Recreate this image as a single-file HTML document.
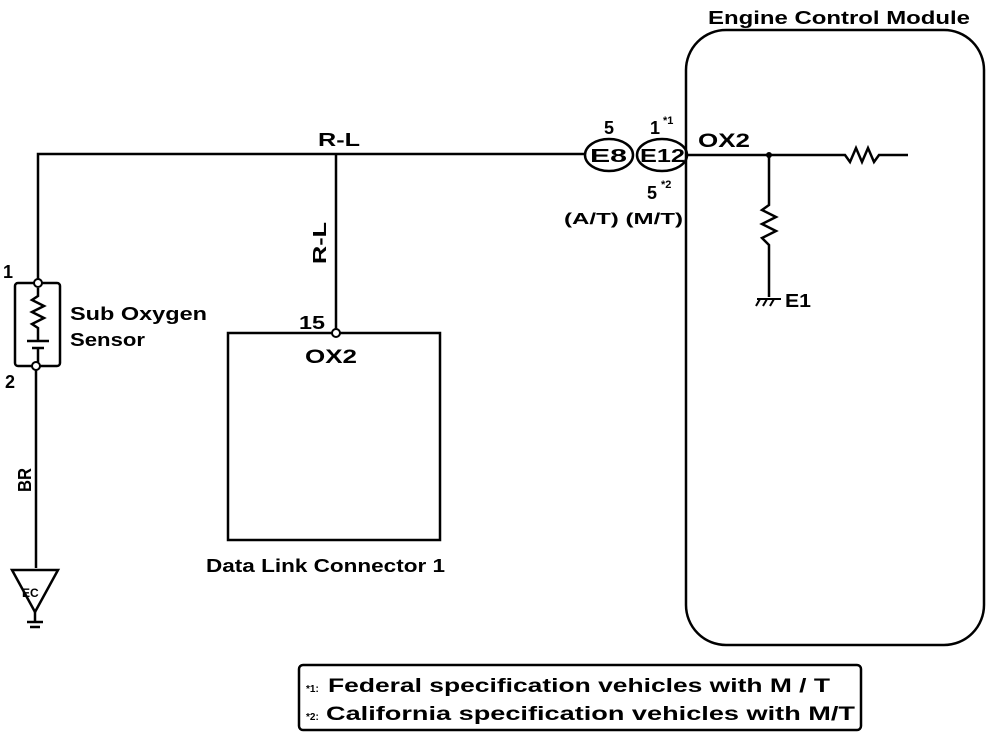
<!DOCTYPE html>
<html><head><style>
html,body{margin:0;padding:0;background:#fff;}
svg{display:block;}
text{font-family:"Liberation Sans",Arial,sans-serif;font-weight:bold;fill:#000;}
</style></head><body>
<svg width="992" height="746" viewBox="0 0 992 746" xmlns="http://www.w3.org/2000/svg">
<g fill="none" stroke="#000" stroke-width="2.5">
<rect x="686" y="30" width="298" height="615" rx="40" ry="40"/>
<polyline points="38,280 38,154 585,154"/>
<line x1="336" y1="154" x2="336" y2="330"/>
<ellipse cx="609" cy="155" rx="24" ry="16"/>
<ellipse cx="662" cy="155" rx="25" ry="16"/>
<polyline points="687,155 845,155 850,162 856,148 862,162 868,148 874,162 879,155 908,155"/>
<polyline points="769,155 769,205 762,210 776,217 762,224 776,231 762,238 769,245 769,297"/>
<rect x="15" y="283" width="45" height="83" rx="3"/>
<polyline points="38,288 38,296 32,300 44,306 32,312 44,318 32,324 38,328 38,340"/>
<line x1="27" y1="341" x2="49" y2="341"/>
<line x1="32" y1="348" x2="44" y2="348"/>
<line x1="38" y1="348" x2="38" y2="362"/>
<line x1="36" y1="370" x2="36" y2="568"/>
<polygon points="12,570 58,570 35,612"/>
<line x1="35" y1="612" x2="35" y2="622"/>
<line x1="27" y1="622" x2="43" y2="622"/>
<line x1="30" y1="627" x2="40" y2="627"/>
<rect x="228" y="333" width="212" height="207"/>
<rect x="299" y="665" width="562" height="65" rx="4"/>
</g>
<g fill="#fff" stroke="#000" stroke-width="2">
<circle cx="38" cy="283" r="4"/>
<circle cx="36" cy="366" r="4"/>
<circle cx="336" cy="333" r="4"/>
</g>
<circle cx="769" cy="155" r="3" fill="#000"/>
<g stroke="#000" stroke-width="2">
<line x1="757" y1="299" x2="781" y2="299"/>
<line x1="760" y1="299" x2="756" y2="306"/>
<line x1="767" y1="299" x2="763" y2="306"/>
<line x1="774" y1="299" x2="770" y2="306"/>
</g>
<text x="708" y="24" font-size="18" textLength="262" lengthAdjust="spacingAndGlyphs">Engine Control Module</text>
<text x="318" y="146" font-size="18" textLength="42" lengthAdjust="spacingAndGlyphs">R-L</text>
<text x="326" y="264" font-size="18" transform="rotate(-90 326 264)" textLength="42" lengthAdjust="spacingAndGlyphs">R-L</text>
<text x="604" y="134" font-size="18">5</text>
<text x="650" y="134" font-size="18">1</text>
<text x="663" y="124" font-size="11">*1</text>
<text x="698" y="147" font-size="19" textLength="52" lengthAdjust="spacingAndGlyphs">OX2</text>
<text x="590" y="162" font-size="18" textLength="37" lengthAdjust="spacingAndGlyphs">E8</text>
<text x="640" y="162" font-size="18" textLength="45" lengthAdjust="spacingAndGlyphs">E12</text>
<text x="647" y="199" font-size="18">5</text>
<text x="661" y="188" font-size="11">*2</text>
<text x="564" y="224" font-size="16" textLength="119" lengthAdjust="spacingAndGlyphs">(A/T) (M/T)</text>
<text x="785" y="307" font-size="18" textLength="26" lengthAdjust="spacingAndGlyphs">E1</text>
<text x="3" y="278" font-size="18">1</text>
<text x="5" y="388" font-size="18">2</text>
<text x="70" y="320" font-size="18" textLength="137" lengthAdjust="spacingAndGlyphs">Sub Oxygen</text>
<text x="70" y="346" font-size="18" textLength="75" lengthAdjust="spacingAndGlyphs">Sensor</text>
<text x="31" y="492" font-size="18" transform="rotate(-90 31 492)" textLength="24" lengthAdjust="spacingAndGlyphs">BR</text>
<text x="22" y="597" font-size="12">EC</text>
<text x="299" y="329" font-size="18" textLength="26" lengthAdjust="spacingAndGlyphs">15</text>
<text x="305" y="363" font-size="19" textLength="52" lengthAdjust="spacingAndGlyphs">OX2</text>
<text x="206" y="572" font-size="18" textLength="239" lengthAdjust="spacingAndGlyphs">Data Link Connector 1</text>
<text x="306" y="692" font-size="10">*1:</text>
<text x="328" y="692" font-size="19" textLength="502" lengthAdjust="spacingAndGlyphs">Federal  specification vehicles with M / T</text>
<text x="306" y="720" font-size="10">*2:</text>
<text x="326" y="720" font-size="19" textLength="529" lengthAdjust="spacingAndGlyphs">California specification vehicles with M/T</text>
</svg>
</body></html>
